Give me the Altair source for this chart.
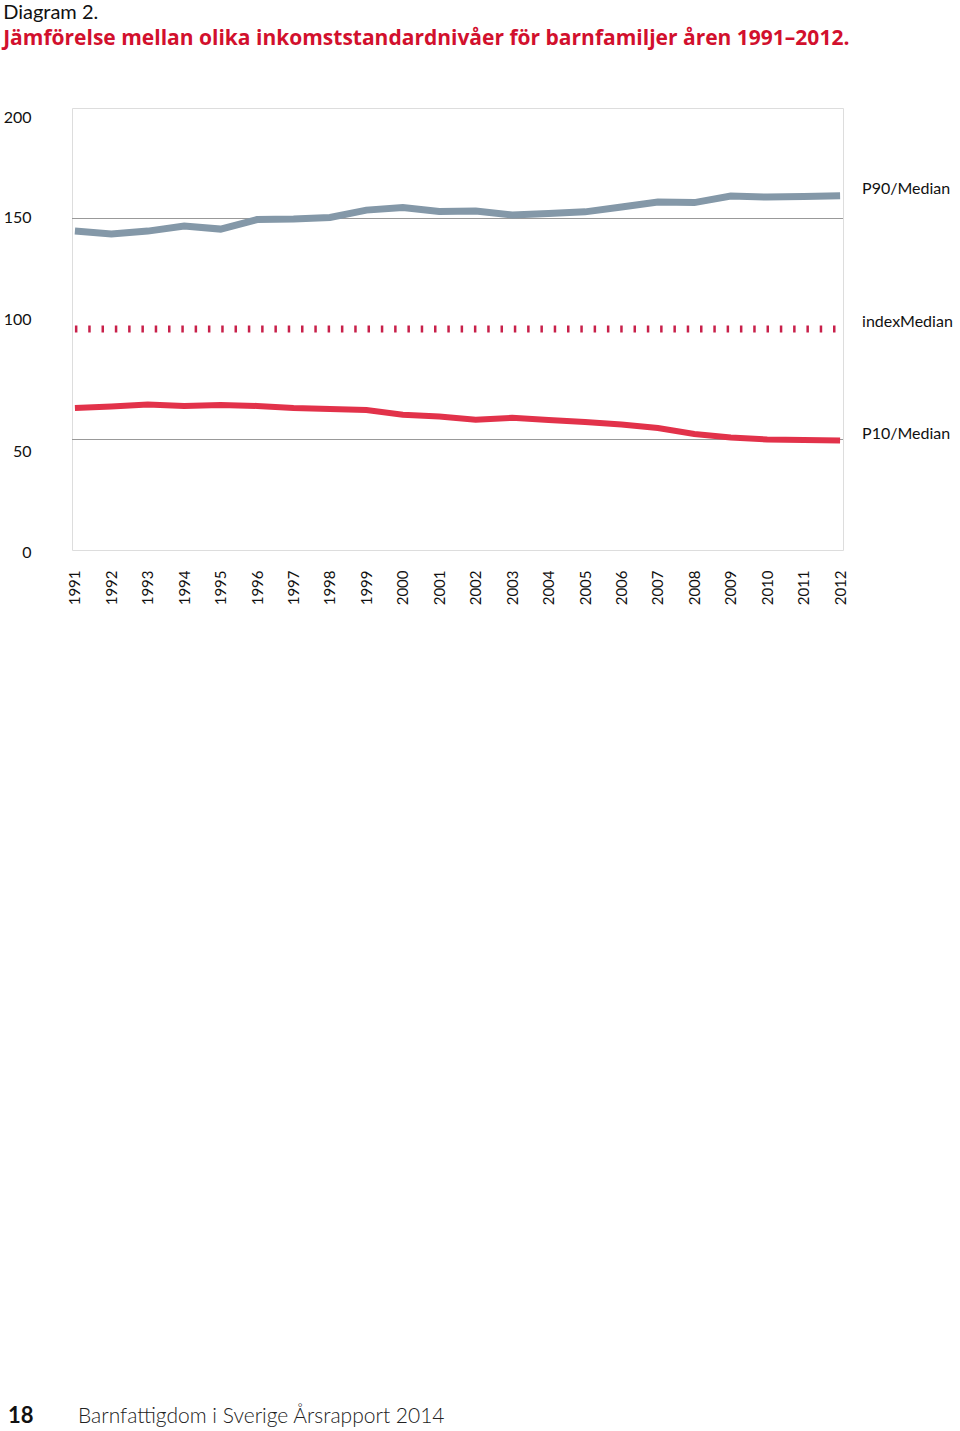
import altair as alt
import pandas as pd

years = [str(y) for y in range(1991, 2013)]
p90_median = [144.3, 143.0, 144.3, 146.6, 145.2, 149.5, 149.8, 150.5, 153.8, 155.0, 153.2,
              153.4, 151.6, 152.3, 153.0, 155.2, 157.5, 157.2, 160.2, 159.7, 160.0, 160.3]
p10_median = [64.3, 64.9, 65.8, 65.2, 65.6, 65.2, 64.3, 63.8, 63.3, 61.2, 60.4,
              58.9, 59.8, 58.8, 57.9, 56.8, 55.2, 52.5, 50.9, 50.0, 49.8, 49.5]
index_median = [100] * 22
series_names = ["P90/Median", "indexMedian", "P10/Median"]
grid_values = [50, 150]
y_ticks = [0, 50, 100, 150, 200]

FONT = "Lato"
GRAY_BLUE = "#8498a8"
RED = "#e2324a"
DOT_RED = "#c8204a"

rows = []
for i, y in enumerate(years):
    rows.append({"year": y, "series": "P90/Median", "value": p90_median[i]})
    rows.append({"year": y, "series": "indexMedian", "value": index_median[i]})
    rows.append({"year": y, "series": "P10/Median", "value": p10_median[i]})
df = pd.DataFrame(rows)

last = pd.DataFrame({
    "year": [years[-1]] * 3,
    "series": series_names,
    "value": [p90_median[-1], index_median[-1], p10_median[-1]],
})

x_enc = alt.X("year:N", sort=years,
              scale=alt.Scale(type="point", padding=0.08),
              axis=alt.Axis(title=None, labelAngle=-90, labelFont=FONT, labelFontSize=15,
                            labelColor="#111", labelPadding=20, ticks=False, domain=False,
                            labelAlign="right", labelBaseline="middle"))
y_scale = alt.Scale(domain=[0, 200], nice=False)

base = alt.Chart(df)

grid = alt.Chart(pd.DataFrame({"v": grid_values})).mark_rule(color="#999999", strokeWidth=1).encode(
    y=alt.Y("v:Q", scale=y_scale,
            axis=alt.Axis(values=y_ticks, title=None, grid=False, ticks=False, domain=False,
                          labelFont=FONT, labelFontSize=16, labelColor="#111", labelPadding=41,
                          labelOffset={"condition": [
                              {"test": "datum.value == 200", "value": 9},
                              {"test": "datum.value == 100", "value": -10},
                              {"test": "datum.value == 50", "value": 12},
                              {"test": "datum.value == 0", "value": 2},
                          ], "value": -1}))
)

p90 = base.transform_filter(alt.datum.series == "P90/Median").mark_line(
    color=GRAY_BLUE, strokeWidth=7, strokeJoin="miter").encode(
    x=x_enc, y=alt.Y("value:Q", scale=y_scale))

p10 = base.transform_filter(alt.datum.series == "P10/Median").mark_line(
    color=RED, strokeWidth=6).encode(
    x=x_enc, y=alt.Y("value:Q", scale=y_scale))

idx = base.transform_filter(alt.datum.series == "indexMedian").mark_line(
    color=DOT_RED, strokeWidth=7, strokeDash=[2.5, 10.8], strokeCap="butt").encode(
    x=x_enc, y=alt.Y("value:Q", scale=y_scale))

labels = alt.Chart(last).mark_text(
    align="left", baseline="middle", dx=22, dy=-7, font=FONT, fontSize=16, color="#111").encode(
    x=x_enc, y=alt.Y("value:Q", scale=y_scale), text="series:N")

footer_num = alt.Chart(pd.DataFrame({"t": ["18"]})).mark_text(
    align="left", baseline="middle", font=FONT, fontSize=22, fontWeight="bold", color="#111").encode(
    x=alt.value(-64), y=alt.value(1308), text="t:N")
footer_txt = alt.Chart(pd.DataFrame({"t": ["Barnfattigdom i Sverige Årsrapport 2014"]})).mark_text(
    align="left", baseline="middle", font=FONT, fontSize=21, fontWeight=300, color="#222").encode(
    x=alt.value(6), y=alt.value(1309), text="t:N")

chart = alt.layer(grid, p90, p10, idx, labels, footer_num, footer_txt).properties(
    width=771, height=442,
    title=alt.TitleParams(
        text="Diagram 2.",
        subtitle="Jämförelse mellan olika inkomststandardnivåer för barnfamiljer åren 1991–2012.",
        anchor="start", frame="bounds", font=FONT, fontSize=20, fontWeight="normal", color="#111",
        subtitleFont="Open Sans", subtitleFontSize=21, subtitleFontWeight="bold", subtitleColor="#d2102d",
        subtitlePadding=5, offset=59),
    autosize=alt.AutoSizeParams(type="none"),
    padding={"left": 72, "top": 108, "right": 117, "bottom": 881},
).configure_view(stroke="#9a9a9a", strokeWidth=1.5).configure(background="white")

chart.save("out.html", embed_options={"renderer": "svg", "actions": False})
